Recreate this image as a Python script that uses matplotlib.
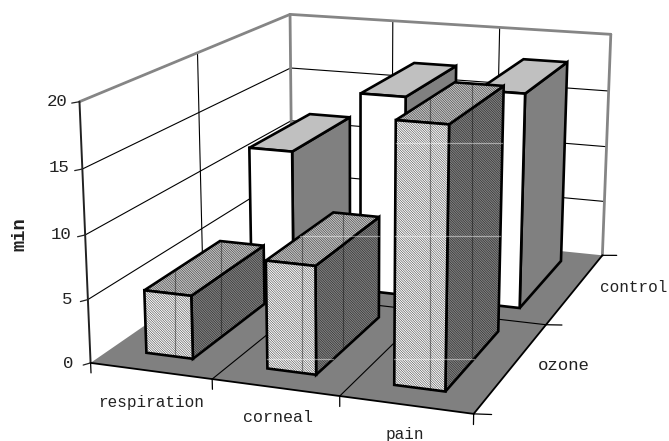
import numpy as np
import matplotlib
matplotlib.use("Agg")
import matplotlib.pyplot as plt
from matplotlib.lines import Line2D
from mpl_toolkits.mplot3d import Axes3D
from mpl_toolkits.mplot3d.art3d import Poly3DCollection

categories = ["respiration", "corneal", "pain"]
series = ["ozone", "control"]
ozone_values = [5.0, 8.4, 19.7]
control_values = [11.5, 16.9, 17.9]
z_ticks = [0, 5, 10, 15, 20]

W, H = 669, 441
plt.rcParams['hatch.linewidth'] = 0.27
fig = plt.figure(figsize=(W/100, H/100), dpi=100, facecolor='white')
ax = fig.add_axes([0, (H-W)/2/H, 1, W/H], projection='3d', computed_zorder=False)
ax.set_axis_off()
ax.apply_aspect()

# camera calibration: axis-box locations -> picture pixels
calib = [((0,0,0),(90,363)), ((1,0,0),(212,379)), ((2,0,0),(340,396)), ((3,0,0),(473,414)),
         ((3,1,0),(547,325)), ((3,2,0),(603,255)), ((0,2,0),(293,224)),
         ((0,0,5),(88,299)), ((0,0,10),(85,235)), ((0,0,15),(82.5,169)), ((0,0,20),(80,102)),
         ((0,2,20),(289,14)), ((3,2,20),(612,34)), ((1,2,20),(393,21)), ((2,2,20),(500,28)),
         ((3,2,15),(608,91)), ((3,2,10),(606,146)), ((3,2,5),(603,202))]
rows = []
for (x, y, z), (u, v) in calib:
    X = [x/3, y/2, z/20, 1]
    u, v = u/W, v/W
    rows.append(X + [0]*4 + [-u*c for c in X])
    rows.append([0]*4 + X + [-v*c for c in X])
P = np.linalg.svd(np.array(rows, float))[2][-1].reshape(3, 4)
P = np.diag([W, W, 1.0]) @ P @ np.diag([1/3, 1/2, 1/20, 1])
if (P[2] @ [1.5, 1, 10, 1]) < 0:
    P = -P
P = P / (P[2] @ [1.5, 1, 10, 1])
inv = ax.transData.inverted()
o = inv.transform((0, H)); ex = inv.transform((1, H)); ey = inv.transform((0, H-1))
A = np.array([[ex[0]-o[0], 0, o[0]], [0, ey[1]-o[1], o[1]], [0, 0, 1]])
Q = A @ P
M = np.vstack([Q[0], Q[1], [0, 0, 0, -1], Q[2]])
ax.get_proj = lambda: M

def to_px(p):
    r = P @ [p[0], p[1], p[2], 1]
    return np.array([r[0]/r[2], r[1]/r[2]])

def line(p, q, color='black', lw=0.8, z=2):
    ax.plot([p[0], q[0]], [p[1], q[1]], [p[2], q[2]], color=color, lw=lw, zorder=z,
            solid_capstyle='round')

def face(verts, fc, hatch=None, z=10):
    c = Poly3DCollection([verts], facecolors=fc, edgecolors='black', linewidths=1.9,
                         hatch=hatch, zorder=z, closed=True)
    c.set_joinstyle('miter')
    ax.add_collection3d(c, autolim=False)

# floor
xmax, ymax, zmax = len(categories), len(series), max(z_ticks)
floor = Poly3DCollection([[(0,0,0),(xmax,0,0),(xmax,ymax,0),(0,ymax,0)]], facecolors='#808080',
                         edgecolors='none', zorder=1)
ax.add_collection3d(floor, autolim=False)

# grid
for t in z_ticks[1:-1]:
    line((0,0,t), (0,ymax,t))
    line((0,ymax,t), (xmax,ymax,t))
for i in range(1, xmax):
    line((i,ymax,0), (i,ymax,zmax))
    line((i,0,0), (i,ymax,0))
for j in range(1, ymax):
    line((0,j,0), (0,j,zmax))
    line((0,j,0), (xmax,j,0))

# walls
gray = '#858585'
line((0,0,zmax), (0,ymax,zmax), gray, 2, 3)
line((0,ymax,zmax), (xmax,ymax,zmax), gray, 2, 3)
line((0,ymax,0), (0,ymax,zmax), gray, 2, 3)
line((xmax,ymax,0), (xmax,ymax,zmax), gray, 2, 3)
line((0,0,0), (0,0,zmax), '#222222', 1.4, 3)
line((0,0,0), (xmax,0,0), 'black', 1.3, 3)
line((xmax,0,0), (xmax,ymax,0), 'black', 1.3, 3)

# ticks
for t in z_ticks:
    line((-0.03,-0.03,t), (0,0,t), '#222222', 0.9, 3)
for i in range(xmax+1):
    line((i,0,0), (i,0,-0.8), 'black', 0.9, 3)
for j in range(ymax+1):
    line((xmax,j,0), (xmax+0.13,j,0.13), 'black', 0.9, 3)

# bars
bw = 0.39
y_front, y_back = 0.17, 0.86
dither = '\\' * 14
zo = 10
boxes = {}
for j, vals in [(1, control_values), (0, ozone_values)]:
    for i, h in enumerate(vals):
        x0, x1 = i+0.49-bw/2, i+0.49+bw/2
        y0, y1 = j+y_front, j+y_back
        if j == 1:
            sty = [('#808080', None), ('#c0c0c0', None), ('white', None)]
        else:
            sty = [('#808080', dither), ('#c4c4c4', dither), ('#f8f8f8', dither)]
        face([(x1,y0,0),(x1,y1,0),(x1,y1,h),(x1,y0,h)], sty[0][0], sty[0][1], zo)
        face([(x0,y0,h),(x1,y0,h),(x1,y1,h),(x0,y1,h)], sty[1][0], sty[1][1], zo+1)
        face([(x0,y0,0),(x1,y0,0),(x1,y0,h),(x0,y0,h)], sty[2][0], sty[2][1], zo+2)
        zo += 3
        boxes[(i, j)] = (x0, x1, y0, y1, h)

# faint seams in the patterned bars of the picture
def corners(b):
    x0, x1, y0, y1, h = b
    return [to_px((x, y, z)) for x in (x0, x1) for y in (y0, y1) for z in (0, h)]

def scan(b, value, axis):
    pts = corners(b)
    hits = []
    for a in range(8):
        for c in range(a+1, 8):
            if bin(a ^ c).count('1') != 1:
                continue
            p, q = pts[a], pts[c]
            if (p[axis]-value)*(q[axis]-value) <= 0 and p[axis] != q[axis]:
                t = (value-p[axis])/(q[axis]-p[axis])
                hits.append(p+(q-p)*t)
    return sorted(hits, key=lambda r: r[1-axis])

def seam(b, value, axis, color, alpha):
    hits = scan(b, value, axis)
    if len(hits) < 2:
        return
    a, c = hits[0], hits[-1]
    fig.add_artist(Line2D([a[0]/W, c[0]/W], [1-a[1]/H, 1-c[1]/H], transform=fig.transFigure,
                          color=color, alpha=alpha, lw=0.9, zorder=20))

for i, xs in enumerate([(175, 221), (302, 343), (430, 472)]):
    for v in xs:
        seam(boxes[(i, 0)], v, 0, 'black', 0.38)
for i, ys in [(1, (236, 359)), (2, (143, 236, 359))]:
    for v in ys:
        seam(boxes[(i, 0)], v, 1, 'white', 0.45)

# text
def txt(px, py, s, **kw):
    fig.text(px/W, 1-py/H, s, ha=kw.pop('ha','center'), va='center', family='Liberation Mono',
             color='#222222', **kw)

for t, (px, py) in zip(z_ticks, [(73,363),(72,299),(71,234),(69,168),(68,102)]):
    txt(px, py, str(t), ha='right', fontsize=12.5)
for s, p, fs in zip(categories, [(151,402),(278,417),(405,434)], [11.5, 12, 11.5]):
    txt(p[0], p[1], s, fontsize=fs)
for s, p, fs in zip(series, [(564,366),(634,288)], [12.5, 11.5]):
    txt(p[0], p[1], s, fontsize=fs)
txt(20, 234, "min", rotation=90, fontweight='bold', fontsize=13.5)

fig.savefig("out.png", dpi=100)
